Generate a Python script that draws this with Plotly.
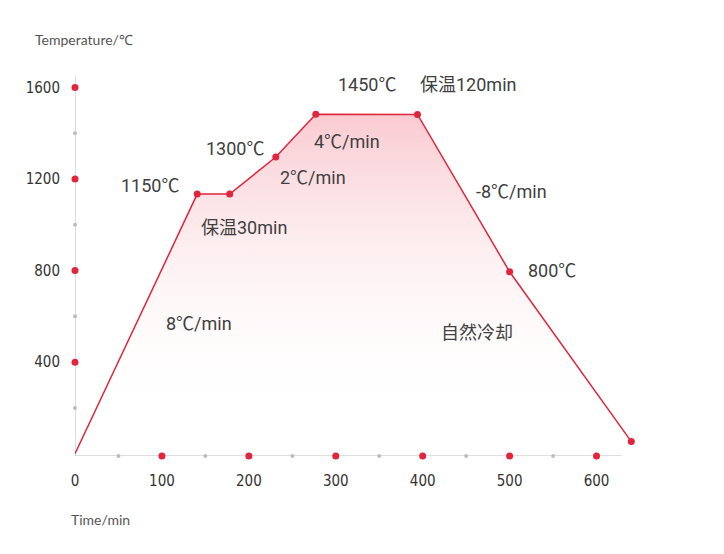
import plotly.graph_objects as go

# ---- data ----
time_min = [0, 140.6, 178, 231, 277, 394, 500, 640]
temp_c = [0, 1134, 1134, 1296, 1483, 1482, 795, 53]

x_major = [100, 200, 300, 400, 500, 600]
x_major_labels = ["100", "200", "300", "400", "500", "600"]
x_minor = [50, 150, 250, 350, 450, 550]
y_major = [400, 800, 1200, 1600]
y_major_labels = ["400", "800", "1200", "1600"]
y_minor = [200, 600, 1000, 1400]

label_texts = ["1450℃", "保温120min", "1300℃", "4℃/min", "2℃/min", "1150℃",
               "保温30min", "8℃/min", "-8℃/min", "800℃", "自然冷却"]
# label left-edge anchor positions in data coords (layout)
label_x = [303, 397, 151, 275, 236, 53, 145, 105, 461, 521, 421]
label_y = [1612, 1612, 1332, 1362, 1207, 1172, 987, 570, 1145, 800, 530]

RED = "#e0253c"
GREY = "#bdbdbd"
TEXT = "#404040"
CJK = "Roboto, 'Noto Sans CJK SC', sans-serif"
NARROW = "'DejaVu Sans Condensed', 'Liberation Sans Narrow', sans-serif"

fig = go.Figure()

fig.add_trace(go.Scatter(
    x=time_min, y=temp_c, mode="lines",
    line=dict(color=RED, width=1.5),
    fill="tozeroy",
    fillgradient=dict(type="vertical", start=135, stop=1483,
                      colorscale=[[0, "rgba(255,255,255,0)"], [1, "rgba(236,80,100,0.30)"]]),
    hoverinfo="skip", showlegend=False,
))

# axis lines
fig.add_shape(type="line", x0=0, x1=629, y0=-10, y1=-10, line=dict(color=GREY, width=1), layer="below")
fig.add_shape(type="line", x0=0, x1=0, y0=-10, y1=1650, line=dict(color=GREY, width=1), layer="below")

# minor tick dots
fig.add_trace(go.Scatter(x=x_minor, y=[-10] * len(x_minor), mode="markers",
                         marker=dict(color=GREY, size=4), cliponaxis=False,
                         hoverinfo="skip", showlegend=False))
fig.add_trace(go.Scatter(x=[0] * len(y_minor), y=y_minor, mode="markers",
                         marker=dict(color=GREY, size=4), cliponaxis=False,
                         hoverinfo="skip", showlegend=False))
# major tick dots
fig.add_trace(go.Scatter(x=x_major, y=[-10] * len(x_major), mode="markers",
                         marker=dict(color=RED, size=7), cliponaxis=False,
                         hoverinfo="skip", showlegend=False))
fig.add_trace(go.Scatter(x=[0] * len(y_major), y=y_major, mode="markers",
                         marker=dict(color=RED, size=7), cliponaxis=False,
                         hoverinfo="skip", showlegend=False))

# data point markers
fig.add_trace(go.Scatter(x=time_min[1:], y=temp_c[1:], mode="markers",
                         marker=dict(color=RED, size=7), cliponaxis=False,
                         hoverinfo="skip", showlegend=False))

for t, lx, ly in zip(label_texts, label_x, label_y):
    fig.add_annotation(x=lx, y=ly, text=t, showarrow=False, xanchor="left", yanchor="middle",
                       xshift=-2, font=dict(family=CJK, size=18, color=TEXT))

fig.add_annotation(x=-0.074, y=1.096, xref="paper", yref="paper", text="Temperature/℃",
                   showarrow=False, xanchor="left", yanchor="middle",
                   font=dict(family="Lato, sans-serif", size=14, color="#555555"))
fig.add_annotation(x=-0.01, y=-0.168, xref="paper", yref="paper", text="Time/min",
                   showarrow=False, xanchor="left", yanchor="middle",
                   font=dict(family="Lato, sans-serif", size=14, color="#555555"))

fig.update_layout(
    width=724, height=554,
    margin=dict(l=75, r=83.5, t=75.6, b=98),
    plot_bgcolor="white", paper_bgcolor="white",
    xaxis=dict(range=[0, 650], showgrid=False, zeroline=False, showline=False,
               tickvals=[0] + x_major, ticktext=["0"] + x_major_labels,
               ticks="", ticklabelstandoff=14,
               tickfont=dict(family=NARROW, size=15, color="#333333")),
    yaxis=dict(range=[-10, 1650], showgrid=False, zeroline=False, showline=False,
               tickvals=y_major, ticktext=y_major_labels,
               ticks="", ticklabelstandoff=14,
               tickfont=dict(family=NARROW, size=15, color="#333333")),
)

fig.write_html("out.html")
